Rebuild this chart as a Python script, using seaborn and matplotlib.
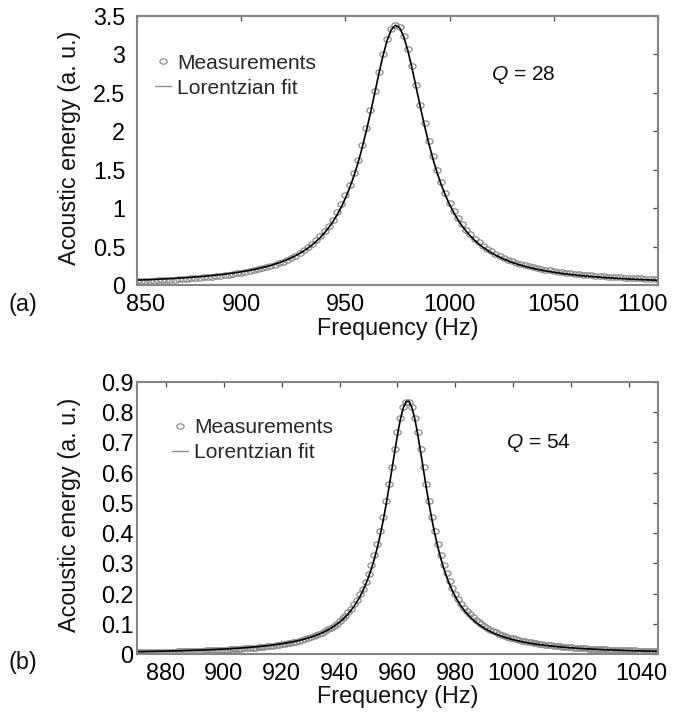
import numpy as np
import pandas as pd
import seaborn as sns
import matplotlib
matplotlib.use("Agg")
import matplotlib.pyplot as plt
from matplotlib import font_manager
from matplotlib.lines import Line2D
from matplotlib.path import Path
from matplotlib.transforms import Affine2D, ScaledTranslation

# ---------------- data ----------------
# panel (a): sampling grid 850..1100 Hz every 2 Hz
freq_a_start, freq_a_stop, freq_a_step = 850, 1100, 2
meas_a = [
    0.050, 0.052, 0.054, 0.056, 0.058, 0.060, 0.063, 0.065, 0.068, 0.071,
    0.075, 0.078, 0.082, 0.085, 0.090, 0.094, 0.098, 0.103, 0.109, 0.114,
    0.120, 0.127, 0.134, 0.142, 0.150, 0.159, 0.169, 0.180, 0.191, 0.203,
    0.217, 0.231, 0.247, 0.265, 0.284, 0.305, 0.328, 0.353, 0.381, 0.413,
    0.449, 0.489, 0.533, 0.583, 0.638, 0.701, 0.772, 0.852, 0.944, 1.048,
    1.167, 1.302, 1.456, 1.630, 1.826, 2.043, 2.278, 2.527, 2.775, 3.006,
    3.199, 3.330, 3.380, 3.352, 3.246, 3.070, 2.846, 2.599, 2.347, 2.104,
    1.879, 1.675, 1.494, 1.334, 1.194, 1.072, 0.966, 0.873, 0.792, 0.721,
    0.658, 0.602, 0.553, 0.509, 0.470, 0.436, 0.405, 0.377, 0.352, 0.330,
    0.309, 0.291, 0.274, 0.259, 0.245, 0.232, 0.220, 0.209, 0.199, 0.190,
    0.181, 0.173, 0.165, 0.158, 0.152, 0.146, 0.140, 0.135, 0.130, 0.125,
    0.121, 0.117, 0.113, 0.109, 0.106, 0.102, 0.099, 0.096, 0.093, 0.091,
    0.088, 0.086, 0.083, 0.081, 0.079, 0.077,
]
fit_a = [
    0.064, 0.066, 0.068, 0.070, 0.072, 0.075, 0.078, 0.080, 0.083, 0.086,
    0.090, 0.093, 0.097, 0.100, 0.105, 0.109, 0.113, 0.118, 0.124, 0.129,
    0.135, 0.141, 0.148, 0.156, 0.163, 0.172, 0.181, 0.191, 0.202, 0.213,
    0.226, 0.239, 0.254, 0.271, 0.289, 0.308, 0.330, 0.354, 0.380, 0.410,
    0.443, 0.480, 0.521, 0.567, 0.620, 0.679, 0.747, 0.824, 0.912, 1.013,
    1.128, 1.261, 1.413, 1.585, 1.781, 1.999, 2.236, 2.488, 2.742, 2.980,
    3.181, 3.321, 3.379, 3.347, 3.231, 3.046, 2.816, 2.565, 2.311, 2.068,
    1.844, 1.642, 1.462, 1.304, 1.166, 1.046, 0.941, 0.849, 0.769, 0.699,
    0.637, 0.582, 0.534, 0.491, 0.453, 0.419, 0.389, 0.362, 0.337, 0.315,
    0.294, 0.276, 0.259, 0.244, 0.230, 0.217, 0.205, 0.194, 0.184, 0.175,
    0.166, 0.158, 0.150, 0.143, 0.137, 0.131, 0.125, 0.120, 0.115, 0.110,
    0.106, 0.102, 0.098, 0.094, 0.091, 0.087, 0.084, 0.081, 0.078, 0.076,
    0.073, 0.071, 0.068, 0.066, 0.064, 0.062,
]
# panel (b): sampling grid 870..1050 Hz every 1 Hz
freq_b_start, freq_b_stop, freq_b_step = 870, 1050, 1
meas_b = [
    0.0056, 0.0057, 0.0059, 0.0061, 0.0062, 0.0064, 0.0066, 0.0068, 0.0070, 0.0072,
    0.0075, 0.0077, 0.0079, 0.0082, 0.0084, 0.0087, 0.0090, 0.0092, 0.0095, 0.0098,
    0.0102, 0.0105, 0.0108, 0.0112, 0.0116, 0.0120, 0.0124, 0.0128, 0.0133, 0.0137,
    0.0142, 0.0147, 0.0153, 0.0158, 0.0164, 0.0170, 0.0177, 0.0184, 0.0191, 0.0199,
    0.0207, 0.0215, 0.0224, 0.0234, 0.0244, 0.0254, 0.0265, 0.0277, 0.0290, 0.0304,
    0.0318, 0.0335, 0.0352, 0.0371, 0.0391, 0.0413, 0.0436, 0.0461, 0.0489, 0.0518,
    0.0550, 0.0585, 0.0623, 0.0664, 0.0709, 0.0758, 0.0812, 0.0871, 0.0936, 0.1008,
    0.1087, 0.1175, 0.1273, 0.1382, 0.1504, 0.1641, 0.1795, 0.1969, 0.2167, 0.2391,
    0.2645, 0.2935, 0.3263, 0.3636, 0.4057, 0.4527, 0.5046, 0.5609, 0.6202, 0.6795,
    0.7348, 0.7815, 0.8163, 0.8330, 0.8330, 0.8165, 0.7820, 0.7345, 0.6790, 0.6200,
    0.5610, 0.5050, 0.4535, 0.4070, 0.3650, 0.3280, 0.2955, 0.2668, 0.2415, 0.2192,
    0.1995, 0.1822, 0.1670, 0.1535, 0.1415, 0.1308, 0.1212, 0.1126, 0.1049, 0.0980,
    0.0917, 0.0860, 0.0808, 0.0760, 0.0716, 0.0676, 0.0639, 0.0605, 0.0573, 0.0544,
    0.0516, 0.0491, 0.0467, 0.0445, 0.0424, 0.0404, 0.0386, 0.0369, 0.0353, 0.0338,
    0.0324, 0.0311, 0.0299, 0.0288, 0.0277, 0.0266, 0.0256, 0.0247, 0.0238, 0.0229,
    0.0221, 0.0213, 0.0206, 0.0199, 0.0193, 0.0187, 0.0181, 0.0175, 0.0170, 0.0165,
    0.0160, 0.0155, 0.0151, 0.0147, 0.0143, 0.0139, 0.0135, 0.0132, 0.0128, 0.0125,
    0.0122, 0.0119, 0.0116, 0.0113, 0.0110, 0.0108, 0.0105, 0.0103, 0.0100, 0.0098,
    0.0096,
]
fit_b = [
    0.0076, 0.0077, 0.0079, 0.0081, 0.0082, 0.0084, 0.0086, 0.0088, 0.0090, 0.0092,
    0.0095, 0.0097, 0.0099, 0.0102, 0.0104, 0.0107, 0.0110, 0.0112, 0.0115, 0.0118,
    0.0122, 0.0125, 0.0128, 0.0132, 0.0136, 0.0140, 0.0144, 0.0148, 0.0153, 0.0157,
    0.0162, 0.0167, 0.0173, 0.0178, 0.0184, 0.0190, 0.0197, 0.0204, 0.0211, 0.0219,
    0.0227, 0.0235, 0.0244, 0.0254, 0.0264, 0.0274, 0.0285, 0.0297, 0.0310, 0.0324,
    0.0338, 0.0354, 0.0370, 0.0388, 0.0407, 0.0427, 0.0449, 0.0472, 0.0498, 0.0525,
    0.0555, 0.0587, 0.0622, 0.0660, 0.0702, 0.0748, 0.0798, 0.0853, 0.0914, 0.0981,
    0.1055, 0.1138, 0.1231, 0.1334, 0.1450, 0.1581, 0.1728, 0.1895, 0.2085, 0.2301,
    0.2547, 0.2828, 0.3148, 0.3513, 0.3927, 0.4392, 0.4909, 0.5474, 0.6072, 0.6680,
    0.7262, 0.7770, 0.8150, 0.8354, 0.8354, 0.8150, 0.7770, 0.7262, 0.6680, 0.6072,
    0.5474, 0.4909, 0.4392, 0.3927, 0.3513, 0.3148, 0.2828, 0.2547, 0.2301, 0.2085,
    0.1895, 0.1728, 0.1581, 0.1450, 0.1334, 0.1231, 0.1138, 0.1055, 0.0981, 0.0914,
    0.0853, 0.0798, 0.0748, 0.0702, 0.0660, 0.0622, 0.0587, 0.0555, 0.0525, 0.0498,
    0.0472, 0.0449, 0.0427, 0.0407, 0.0388, 0.0370, 0.0354, 0.0338, 0.0324, 0.0310,
    0.0297, 0.0285, 0.0274, 0.0264, 0.0254, 0.0244, 0.0235, 0.0227, 0.0219, 0.0211,
    0.0204, 0.0197, 0.0190, 0.0184, 0.0178, 0.0173, 0.0167, 0.0162, 0.0157, 0.0153,
    0.0148, 0.0144, 0.0140, 0.0136, 0.0132, 0.0128, 0.0125, 0.0122, 0.0118, 0.0115,
    0.0112, 0.0110, 0.0107, 0.0104, 0.0102, 0.0099, 0.0097, 0.0095, 0.0092, 0.0090,
    0.0088,
]

xticks_a = [850, 900, 950, 1000, 1050, 1100]
xticklabels_a = ["850", "900", "950", "1000", "1050", "1100"]
yticks_a = [0, 0.5, 1, 1.5, 2, 2.5, 3, 3.5]
yticklabels_a = ["0", "0.5", "1", "1.5", "2", "2.5", "3", "3.5"]
xticks_b = [880, 900, 920, 940, 960, 980, 1000, 1020, 1040]
xticklabels_b = ["880", "900", "920", "940", "960", "980", "1000", "1020", "1040"]
yticks_b = [0, 0.1, 0.2, 0.3, 0.4, 0.5, 0.6, 0.7, 0.8, 0.9]
yticklabels_b = ["0", "0.1", "0.2", "0.3", "0.4", "0.5", "0.6", "0.7", "0.8", "0.9"]

q_a, q_b = 28, 54
legend_labels = ["Measurements", "Lorentzian fit"]

# ---------------- style ----------------
sns.set_theme(style="white")
avail = {f.name for f in font_manager.fontManager.ttflist}
if "Liberation Sans Narrow" in avail:
    FONT, SC = "Liberation Sans Narrow", 1.0
else:
    FONT, SC = "Liberation Sans", 0.84
plt.rcParams["font.family"] = [FONT, "DejaVu Sans"]
plt.rcParams["mathtext.fontset"] = "custom"
plt.rcParams["mathtext.rm"] = FONT
plt.rcParams["mathtext.it"] = FONT + ":italic"

TICK_FS = 20 * SC
LAB_FS = 20 * SC
LEG_FS = 18 * SC
GRAY = "#8a8a8a"
SPINE = "#858585"

ell = Path.unit_circle().transformed(Affine2D().scale(1.0, 0.74))

W, H = 675, 725
fig = plt.figure(figsize=(W / 100, H / 100), dpi=100)


def px_axes(l, t, r, b):
    return fig.add_axes([l / W, 1 - b / H, (r - l) / W, (b - t) / H])


ax_a = px_axes(137, 16, 658, 285)
ax_b = px_axes(137, 382, 658, 654)

panels = [
    (ax_a, np.arange(freq_a_start, freq_a_stop + 1, freq_a_step), meas_a, fit_a,
     (850, 1100), (0, 3.5), xticks_a, xticklabels_a, yticks_a, yticklabels_a, 8.5,
     (0.0345, 0.860), (0.741, 0.779), q_a),
    (ax_b, np.arange(freq_b_start, freq_b_stop + 1, freq_b_step), meas_b, fit_b,
     (870, 1050), (0, 0.9), xticks_b, xticklabels_b, yticks_b, yticklabels_b, 2.5,
     (0.067, 0.866), (0.770, 0.777), q_b),
]

for (ax, f, m, fit, xl, yl, xt, xtl, yt, ytl, ypad, legpos, qpos, q) in panels:
    df = pd.DataFrame({"Frequency (Hz)": f, "meas": m, "fit": fit})
    sns.lineplot(data=df, x="Frequency (Hz)", y="meas", ax=ax, linestyle="",
                 marker=ell, markersize=5.2, markerfacecolor="none",
                 markeredgecolor=GRAY, markeredgewidth=0.9, errorbar=None,
                 sort=False)
    sns.lineplot(data=df, x="Frequency (Hz)", y="fit", ax=ax, color="black",
                 linewidth=1.2, errorbar=None, sort=False)
    ax.set_xlim(*xl)
    ax.set_ylim(*yl)
    ax.set_xticks(xt)
    ax.set_xticklabels(xtl)
    ax.set_yticks(yt)
    ax.set_yticklabels(ytl)
    ax.tick_params(axis="both", direction="in", top=True, right=True,
                   length=3.5, width=0.9, color="#444444", labelsize=TICK_FS,
                   labelcolor="black")
    ax.tick_params(axis="x", pad=5.5)
    ax.tick_params(axis="y", pad=ypad)
    for s in ax.spines.values():
        s.set_visible(True)
        s.set_color(SPINE)
        s.set_linewidth(1.5)
    ax.set_xlabel("Frequency (Hz)", fontsize=LAB_FS, color="#111111")
    ax.set_ylabel("Acoustic energy (a. u.)", fontsize=LAB_FS, color="#111111")
    ax.yaxis.set_label_coords(-0.108, 0.51)
    h_meas = Line2D([], [], linestyle="none", marker=ell, markersize=5.2,
                    markerfacecolor="none", markeredgecolor=GRAY,
                    markeredgewidth=0.9)
    h_fit = Line2D([], [], color=GRAY, linewidth=1.0)
    ax.legend(handles=[h_meas, h_fit], labels=legend_labels, loc="upper left",
              bbox_to_anchor=legpos, frameon=False, borderpad=0,
              borderaxespad=0, handlelength=0.75, handletextpad=0.3,
              labelspacing=0.28, fontsize=LEG_FS)
    ax.text(qpos[0], qpos[1], r"$Q$ = %d" % q, transform=ax.transAxes,
            ha="center", va="center", fontsize=LEG_FS, color="#111111")

ax_a.xaxis.set_label_coords(0.5, -0.118)
ax_b.xaxis.set_label_coords(0.5, -0.115)


def nudge(label, dx_px):
    label.set_transform(label.get_transform()
                        + ScaledTranslation(dx_px / 100, 0, fig.dpi_scale_trans))


# edge tick labels are nudged inward/outward in the reference
nudge(ax_a.get_xticklabels()[0], 9)
nudge(ax_a.get_xticklabels()[-1], -16)
nudge(ax_b.get_xticklabels()[-1], 12)

fig.text(23 / W, 1 - 304 / H, "(a)", ha="center", va="center",
         fontsize=LAB_FS, color="#111111")
fig.text(23 / W, 1 - 663 / H, "(b)", ha="center", va="center",
         fontsize=LAB_FS, color="#111111")

fig.savefig("out.png", dpi=100)
